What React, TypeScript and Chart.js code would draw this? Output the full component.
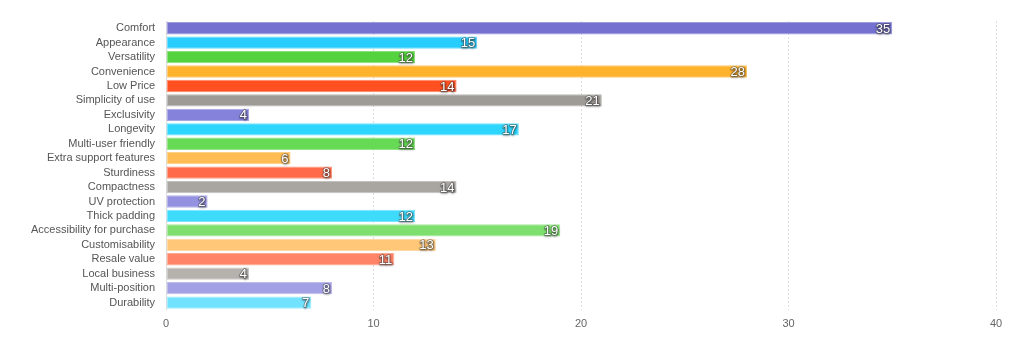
import React, { useEffect, useRef } from "react";
import { Chart, registerables } from "chart.js";

Chart.register(...registerables);

const categories = [
  "Comfort", "Appearance", "Versatility", "Convenience", "Low Price", "Simplicity of use",
  "Exclusivity", "Longevity", "Multi-user friendly", "Extra support features", "Sturdiness",
  "Compactness", "UV protection", "Thick padding", "Accessibility for purchase",
  "Customisability", "Resale value", "Local business", "Multi-position", "Durability",
];
const values = [35, 15, 12, 28, 14, 21, 4, 17, 12, 6, 8, 14, 2, 12, 19, 13, 11, 4, 8, 7];
const barColors = [
  "#7471d1", "#27cdfd", "#55d33e", "#ffb22b", "#ff5021", "#9e9b96",
  "#8582db", "#2ed5fd", "#66d955", "#ffbc52", "#ff6b48", "#a9a6a1",
  "#9491e0", "#3fdbfd", "#7fdf6e", "#ffc777", "#ff8468", "#b5b2ad",
  "#a3a0e6", "#72e3fe",
];
const xTicks = [0, 10, 20, 30, 40];

const FONT = "'Liberation Sans', Arial, Helvetica, sans-serif";

const valueLabels = {
  id: "valueLabels",
  afterDatasetsDraw(chart: any) {
    const ctx = chart.ctx;
    const meta = chart.getDatasetMeta(0);
    ctx.save();
    ctx.font = `13px ${FONT}`;
    ctx.textAlign = "right";
    ctx.textBaseline = "middle";
    meta.data.forEach((bar: any, i: number) => {
      const text = String(values[i]);
      ctx.shadowColor = "rgba(0,0,0,0.8)";
      ctx.shadowBlur = 2;
      ctx.shadowOffsetX = 0.5;
      ctx.shadowOffsetY = 1;
      ctx.lineWidth = 1.5;
      ctx.strokeStyle = "rgba(70,70,70,0.5)";
      ctx.strokeText(text, bar.x - 2, bar.y + 1);
      ctx.shadowColor = "transparent";
      ctx.fillStyle = "#ffffff";
      ctx.fillText(text, bar.x - 2, bar.y + 1);
    });
    ctx.restore();
  },
};

function lighten(hex: string, amt: number) {
  const n = parseInt(hex.slice(1), 16);
  const r = (n >> 16) & 255, g = (n >> 8) & 255, b = n & 255;
  const f = (c: number) => Math.round(c + (255 - c) * amt);
  return `rgb(${f(r)},${f(g)},${f(b)})`;
}

export default function App() {
  const ref = useRef<HTMLCanvasElement>(null);
  useEffect(() => {
    if (!ref.current) return;
    const chart = new Chart(ref.current, {
      type: "bar",
      data: {
        labels: categories,
        datasets: [
          {
            data: values,
            backgroundColor: barColors,
            borderColor: barColors.map((c) => lighten(c, 0.3)),
            borderWidth: 1,
            borderSkipped: false,
            barPercentage: 0.95,
            categoryPercentage: 0.9,
          },
        ],
      },
      options: {
        indexAxis: "y",
        animation: false,
        responsive: true,
        maintainAspectRatio: false,
        layout: { padding: { top: 13, right: 20, bottom: 4, left: 20 } },
        plugins: { legend: { display: false }, tooltip: { enabled: false } },
        scales: {
          x: {
            min: 0,
            max: 40,
            afterBuildTicks: (axis: any) => {
              axis.ticks = xTicks.map((v) => ({ value: v }));
            },
            grid: {
              color: "#dddddd",
              drawTicks: false,
            },
            border: { display: false, dash: [2, 2] },
            ticks: { color: "#666666", font: { family: FONT, size: 11 }, padding: 8 },
          },
          y: {
            grid: { display: false },
            border: { display: true, color: "#dddddd" },
            ticks: { color: "#555555", font: { family: FONT, size: 11 }, padding: 3, autoSkip: false },
          },
        },
      },
      plugins: [valueLabels],
    });
    return () => chart.destroy();
  }, []);
  return (
    <div style={{ width: 1008, height: 335, position: "relative" }}>
      <canvas ref={ref} />
    </div>
  );
}
